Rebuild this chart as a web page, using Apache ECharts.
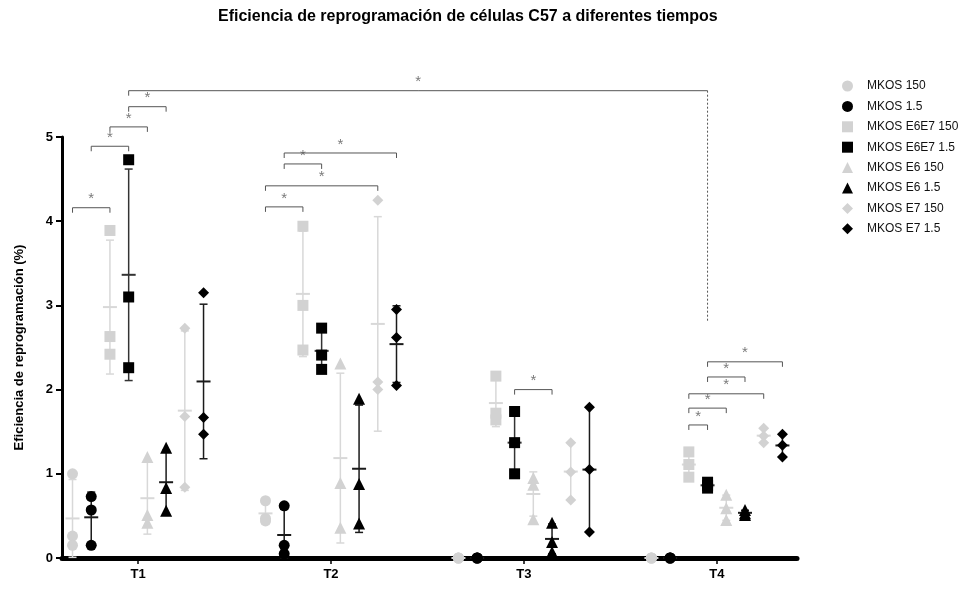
<!DOCTYPE html>
<html>
<head>
<meta charset="utf-8">
<script src="https://cdn.jsdelivr.net/npm/echarts@6/dist/echarts.min.js"></script>
<style>
  html, body { margin: 0; padding: 0; background: #fff; }
  #chart { width: 973px; height: 597px; }
</style>
</head>
<body>
<div id="chart"></div>
<script>
// Time points on the x axis
const categories = ['T1', 'T2', 'T3', 'T4'];

// Group names, in legend order
const seriesNames = [
  'MKOS 150', 'MKOS 1.5', 'MKOS E6E7 150', 'MKOS E6E7 1.5',
  'MKOS E6 150', 'MKOS E6 1.5', 'MKOS E7 150', 'MKOS E7 1.5'
];

// Replicates (%) per time point: [T1, T2, T3, T4]
const mkos150    = [[1.00, 0.26, 0.15], [0.68, 0.47, 0.44], [0, 0, 0], [0, 0, 0]];
const mkos15     = [[0.73, 0.57, 0.15], [0.62, 0.15, 0.05], [0, 0, 0], [0, 0, 0]];
const mkosE6E7150 = [[3.89, 2.63, 2.42], [3.94, 3.00, 2.47], [2.16, 1.72, 1.64], [1.26, 1.11, 0.96]];
const mkosE6E715  = [[4.73, 3.10, 2.26], [2.73, 2.41, 2.24], [1.74, 1.37, 1.00], [0.90, 0.86, 0.83]];
const mkosE6150  = [[1.20, 0.51, 0.42], [2.31, 0.89, 0.36], [0.95, 0.87, 0.46], [0.75, 0.59, 0.45]];
const mkosE615   = [[1.31, 0.83, 0.56], [1.89, 0.88, 0.41], [0.42, 0.19, 0.07], [0.57, 0.53, 0.51]];
const mkosE7150  = [[2.73, 1.68, 0.84], [4.25, 2.09, 2.00], [1.37, 1.02, 0.69], [1.54, 1.45, 1.37]];
const mkosE715   = [[3.15, 1.67, 1.47], [2.95, 2.62, 2.05], [1.79, 1.05, 0.31], [1.47, 1.34, 1.20]];

const seriesValues = [mkos150, mkos15, mkosE6E7150, mkosE6E715, mkosE6150, mkosE615, mkosE7150, mkosE715];

// y-axis tick labels
const yTicks = [0, 1, 2, 3, 4, 5];

// Significance comparisons: [fromTime, fromGroup, toTime, toGroup, bracketHeight]
const comparisons = [
  [0, 0, 0, 2, 4.16], [0, 1, 0, 3, 4.89], [0, 2, 0, 4, 5.12], [0, 3, 0, 5, 5.36],
  [1, 0, 1, 2, 4.17], [1, 0, 1, 6, 4.42], [1, 1, 1, 3, 4.68], [1, 1, 1, 7, 4.81],
  [2, 3, 2, 5, 2.00],
  [3, 2, 3, 3, 1.58], [3, 2, 3, 4, 1.78], [3, 2, 3, 6, 1.95], [3, 3, 3, 5, 2.15], [3, 3, 3, 7, 2.33]
];
// Long comparison T1 vs T4, right leg dashed down to this level
const longComparison = [0, 3, 3, 3, 5.55, 2.8];

// ---- styling ----
const LIGHT = '#d2d2d2';
const DARK = '#000000';
const symbols = ['circle', 'circle', 'rect', 'rect', 'triangle', 'triangle', 'diamond', 'diamond'];
const colors = [LIGHT, DARK, LIGHT, DARK, LIGHT, DARK, LIGHT, DARK];
const barColors = ['#d8d8d8', '#1a1a1a', '#d8d8d8', '#333333', '#d8d8d8', '#1a1a1a', '#d8d8d8', '#1a1a1a'];
const symbolSizes = [11, 11, 11, 11, 12, 12, 11, 11];
const FONT = '"Liberation Sans", Arial, Helvetica, sans-serif';

// horizontal dodge of each group inside a time point
const DODGE = 0.097;
const xPos = (t, s) => t + (s - 3.5) * DODGE;

function meanSd(arr) {
  const m = arr.reduce((a, b) => a + b, 0) / arr.length;
  const v = arr.reduce((a, b) => a + (b - m) * (b - m), 0) / (arr.length - 1);
  return [m, Math.sqrt(v)];
}

const series = [];

// error bars (mean ± SD)
seriesValues.forEach((vals, s) => {
  const data = vals.map((reps, t) => {
    const [m, sd] = meanSd(reps);
    return [xPos(t, s), m, Math.max(0, m - sd), m + sd];
  });
  series.push({
    type: 'custom',
    name: 'sd-' + s,
    z: 3,
    silent: true,
    data: data,
    renderItem: function (params, api) {
      const x = api.value(0);
      const pm = api.coord([x, api.value(1)]);
      const pl = api.coord([x, api.value(2)]);
      const ph = api.coord([x, api.value(3)]);
      const st = { stroke: barColors[s], lineWidth: 1.5, fill: null };
      const children = [];
      if (ph[1] < pl[1] - 0.5) {
        children.push({ type: 'line', shape: { x1: pl[0], y1: pl[1], x2: ph[0], y2: ph[1] }, style: st });
        children.push({ type: 'line', shape: { x1: pl[0] - 4, y1: pl[1], x2: pl[0] + 4, y2: pl[1] }, style: st });
        children.push({ type: 'line', shape: { x1: ph[0] - 4, y1: ph[1], x2: ph[0] + 4, y2: ph[1] }, style: st });
      }
      children.push({ type: 'line', shape: { x1: pm[0] - 7, y1: pm[1], x2: pm[0] + 7, y2: pm[1] },
        style: { stroke: barColors[s], lineWidth: 2 } });
      return { type: 'group', children: children };
    }
  });
});

// replicate points
seriesValues.forEach((vals, s) => {
  const data = [];
  vals.forEach((reps, t) => reps.forEach(v => data.push([xPos(t, s), v])));
  series.push({
    type: 'scatter',
    name: seriesNames[s],
    symbol: symbols[s],
    symbolSize: symbolSizes[s],
    itemStyle: { color: colors[s], opacity: 1 },
    z: 4,
    data: data
  });
});

// significance brackets
const STAR_COLOR = '#7a7a7a';
const BRACKET_COLOR = '#555555';
series.push({
  type: 'custom',
  name: 'signif',
  silent: true,
  z: 5,
  clip: false,
  data: comparisons.map(c => [xPos(c[0], c[1]), xPos(c[2], c[3]), c[4]]),
  renderItem: function (params, api) {
    const a = api.coord([api.value(0), api.value(2)]);
    const b = api.coord([api.value(1), api.value(2)]);
    const st = { stroke: BRACKET_COLOR, lineWidth: 1, fill: null };
    return {
      type: 'group',
      children: [
        { type: 'polyline', shape: { points: [[a[0], a[1] + 5], [a[0], a[1]], [b[0], b[1]], [b[0], b[1] + 5]] }, style: st },
        { type: 'text', style: { text: '*', x: (a[0] + b[0]) / 2, y: a[1] - 1, align: 'center', verticalAlign: 'bottom',
          fill: STAR_COLOR, font: '15px ' + FONT } }
      ]
    };
  }
});
series.push({
  type: 'custom',
  name: 'signif-long',
  silent: true,
  z: 5,
  clip: false,
  data: [[xPos(longComparison[0], longComparison[1]), xPos(longComparison[2], longComparison[3]), longComparison[4], longComparison[5]]],
  renderItem: function (params, api) {
    const a = api.coord([api.value(0), api.value(2)]);
    const b = api.coord([api.value(1), api.value(2)]);
    const d = api.coord([api.value(1), api.value(3)]);
    const st = { stroke: BRACKET_COLOR, lineWidth: 1, fill: null };
    return {
      type: 'group',
      children: [
        { type: 'polyline', shape: { points: [[a[0], a[1] + 5], [a[0], a[1]], [b[0], b[1]]] }, style: st },
        { type: 'line', shape: { x1: b[0], y1: b[1], x2: d[0], y2: d[1] },
          style: { stroke: BRACKET_COLOR, lineWidth: 1, lineDash: [2, 2] } },
        { type: 'text', style: { text: '*', x: (a[0] + b[0]) / 2, y: a[1] - 1, align: 'center', verticalAlign: 'bottom',
          fill: STAR_COLOR, font: '15px ' + FONT } }
      ]
    };
  }
});

const chart = echarts.init(document.getElementById('chart'), null, { renderer: 'canvas' });
chart.setOption({
  backgroundColor: '#ffffff',
  animation: false,
  textStyle: { fontFamily: FONT },
  title: {
    text: 'Eficiencia de reprogramación de células C57 a diferentes tiempos',
    left: 218,
    top: 9,
    padding: 0,
    textStyle: { fontSize: 16, fontWeight: 'bold', color: '#000', fontFamily: FONT }
  },
  legend: {
    data: seriesNames,
    orient: 'vertical',
    left: 837,
    top: 75,
    itemWidth: 11,
    itemHeight: 11,
    itemGap: 8.4,
    selectedMode: false,
    textStyle: { fontSize: 12, color: '#111', fontFamily: FONT, padding: [0, 0, 0, 9] }
  },
  grid: { left: 62, right: 176, top: 137, bottom: 39, containLabel: false },
  xAxis: {
    type: 'value',
    min: -0.394,
    max: 3.415,
    splitLine: { show: false },
    axisLine: { show: true, onZero: false, lineStyle: { color: '#000', width: 5 } },
    axisTick: { show: true, customValues: [0, 1, 2, 3], length: 6, lineStyle: { color: '#000', width: 1.5 } },
    axisLabel: {
      customValues: [0, 1, 2, 3],
      formatter: v => categories[Math.round(v)],
      color: '#000', fontWeight: 'bold', fontSize: 13, margin: 10, fontFamily: FONT
    }
  },
  yAxis: {
    type: 'value',
    min: yTicks[0],
    max: yTicks[yTicks.length - 1],
    interval: 1,
    name: 'Eficiencia de reprogramación (%)',
    nameLocation: 'middle',
    nameGap: 36,
    nameTextStyle: { color: '#000', fontWeight: 'bold', fontSize: 13, fontFamily: FONT },
    splitLine: { show: false },
    axisLine: { show: true, onZero: false, lineStyle: { color: '#000', width: 3 } },
    axisTick: { show: true, length: 6, lineStyle: { color: '#000', width: 2 } },
    axisLabel: { color: '#000', fontWeight: 'bold', fontSize: 13, margin: 9, fontFamily: FONT }
  },
  series: series
});
</script>
</body>
</html>
